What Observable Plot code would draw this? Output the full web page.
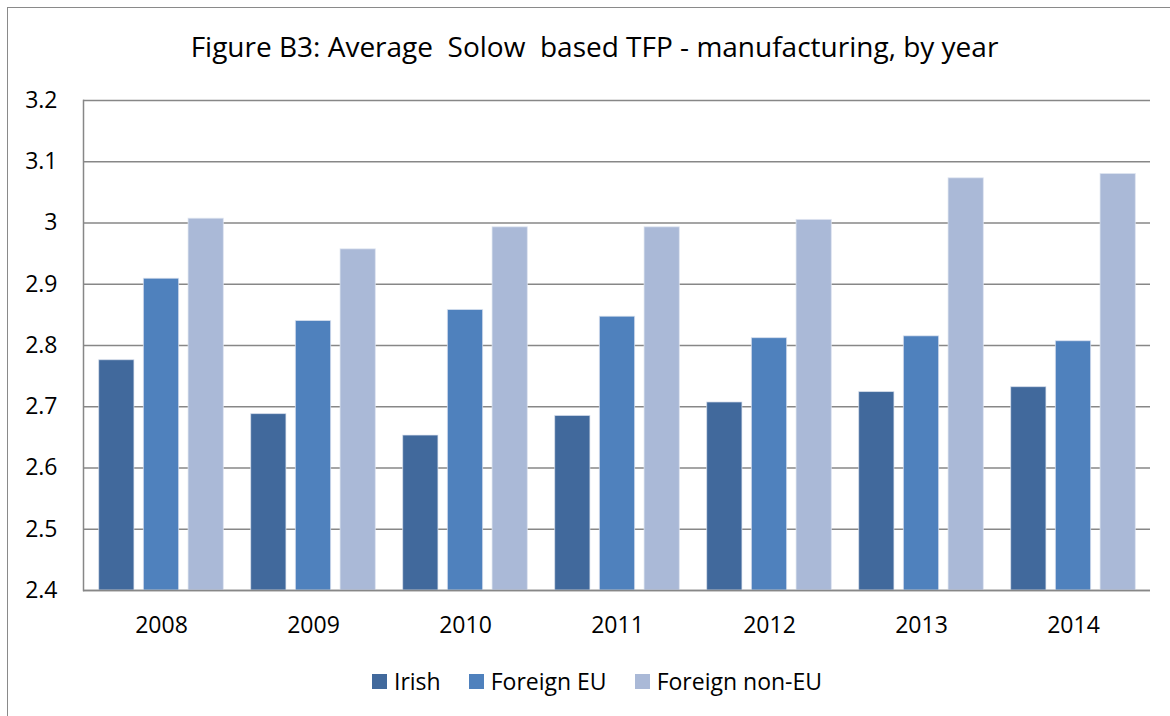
<!DOCTYPE html>
<html>
<head>
<meta charset="utf-8">
<script src="https://cdn.jsdelivr.net/npm/d3@7"></script>
<script src="https://cdn.jsdelivr.net/npm/@observablehq/plot@0.6"></script>
<style>
  html, body { margin: 0; padding: 0; background: #fff; overflow: hidden; }
  body { width: 1170px; height: 716px; position: relative; font-family: "Open Sans", sans-serif; color: #000; }
  #outer { position: absolute; left: 7px; top: 7px; width: 1300px; height: 900px; border: 1.5px solid #8a8a8a; box-sizing: border-box; }
  #title { position: absolute; left: 0; top: 28px; width: 1189px; text-align: center; font-size: 28px; line-height: 37px; white-space: pre; }
  #chart { position: absolute; left: 0; top: 0; }
  #legend { position: absolute; left: 0; top: 667px; width: 1194px; display: flex; justify-content: center; align-items: center; font-size: 23px; line-height: 28px; }
  .item { display: flex; align-items: center; margin: 0 14px; }
  .sw { width: 15px; height: 15px; margin-right: 7px; }
</style>
</head>
<body>
<div id="outer"></div>
<div id="title">Figure B3: Average  Solow  based TFP - manufacturing, by year</div>
<div id="chart"></div>
<div id="legend"></div>
<script>
// ---- data ----
const years = ["2008", "2009", "2010", "2011", "2012", "2013", "2014"];
const seriesNames = ["Irish", "Foreign EU", "Foreign non-EU"];
const irish = [2.776, 2.688, 2.653, 2.685, 2.707, 2.724, 2.732];
const foreignEU = [2.909, 2.840, 2.858, 2.847, 2.812, 2.815, 2.807];
const foreignNonEU = [3.007, 2.957, 2.993, 2.993, 3.005, 3.073, 3.080];
const yTicks = [2.4, 2.5, 2.6, 2.7, 2.8, 2.9, 3.0, 3.1, 3.2];
const colors = ["#41699C", "#4F81BD", "#AAB9D7"];

// ---- build table ----
const seriesValues = [irish, foreignEU, foreignNonEU];
const rows = [];
seriesNames.forEach((s, si) => years.forEach((y, yi) => rows.push({year: y, series: s, value: seriesValues[si][yi]})));

const yMin = yTicks[0], yMax = yTicks[yTicks.length - 1];
const barWidth = 35.7, barStep = 44.7;
const bandStep = (1170 - 83 - 20) / years.length;
const inset = (bandStep - barWidth) / 2;

const barMarks = seriesNames.map((s, si) =>
  Plot.barY(rows.filter(d => d.series === s), {
    x: "year",
    y1: () => yMin,
    y2: "value",
    fill: colors[si],
    stroke: "#dfe6f1",
    strokeWidth: 1,
    strokeOpacity: 0.7,
    insetLeft: inset,
    insetRight: inset,
    dx: (si - 1) * barStep
  })
);

const chart = Plot.plot({
  width: 1170,
  height: 640,
  marginTop: 100,
  marginBottom: 50,
  marginLeft: 83,
  marginRight: 20,
  x: {domain: years, padding: 0, axis: null, label: null},
  y: {domain: [yMin, yMax], axis: null, label: null},
  style: {fontFamily: "Open Sans", fontSize: "23px", color: "#000", background: "transparent"},
  marks: [
    Plot.gridY(yTicks, {stroke: "#878787", strokeOpacity: 1, strokeWidth: 1.5}),
    ...barMarks,
    Plot.axisY(yTicks, {tickSize: 0, tickPadding: 26, fontSize: 23, label: null, tickFormat: d => String(+d.toFixed(1))}),
    Plot.axisX({tickSize: 0, tickPadding: 26, fontSize: 23, label: null}),
    Plot.ruleY([yMin], {stroke: "#878787", strokeWidth: 1.5}),
    Plot.frame({anchor: "left", stroke: "#878787", strokeWidth: 1.5})
  ]
});
document.getElementById("chart").appendChild(chart);

// ---- legend ----
const legend = document.getElementById("legend");
seriesNames.forEach((s, i) => {
  const item = document.createElement("div");
  item.className = "item";
  const sw = document.createElement("span");
  sw.className = "sw";
  sw.style.background = colors[i];
  const t = document.createElement("span");
  t.textContent = s;
  item.appendChild(sw);
  item.appendChild(t);
  legend.appendChild(item);
});
</script>
</body>
</html>
